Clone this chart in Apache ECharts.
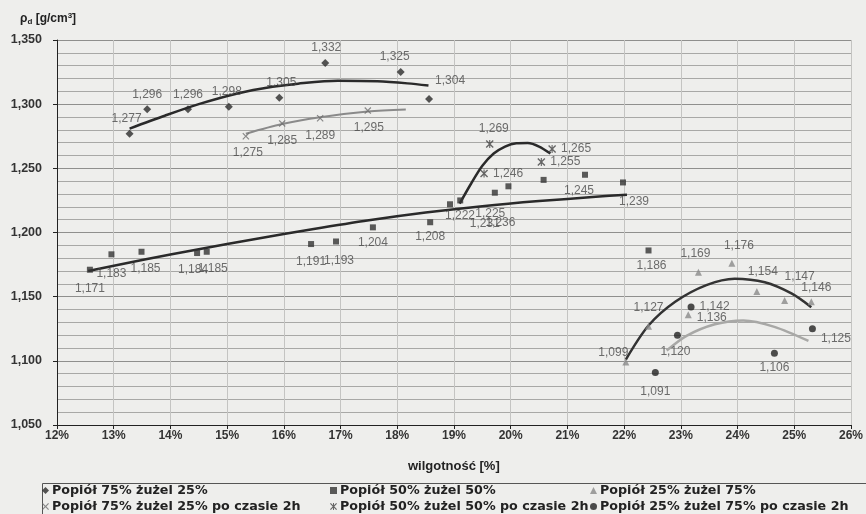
<!DOCTYPE html>
<html><head><meta charset="utf-8">
<script src="https://cdn.jsdelivr.net/npm/echarts@6/dist/echarts.min.js"></script>
<style>html,body{margin:0;padding:0;background:#eeeeec}#chart{width:866px;height:514px}</style>
</head><body><div id="chart"></div>
<script>
// Dry density ρd [g/cm³] against moisture content [%] for ash/slag mixtures

// Popiół 75% żużel 25%
const ash75_x = [13.28, 13.59, 14.31, 15.03, 15.92, 16.73, 18.06, 18.56];
const ash75_y = [1.277, 1.296, 1.296, 1.298, 1.305, 1.332, 1.325, 1.304];
// Popiół 50% żużel 50%
const ash50_x = [12.58, 12.96, 13.49, 14.47, 14.64, 16.48, 16.92, 17.57, 18.58, 18.93, 19.11, 19.72, 19.96, 20.58, 21.31, 21.98, 22.43];
const ash50_y = [1.171, 1.183, 1.185, 1.184, 1.185, 1.191, 1.193, 1.204, 1.208, 1.222, 1.225, 1.231, 1.236, 1.241, 1.245, 1.239, 1.186];
// Popiół 25% żużel 75%
const ash25_x = [22.03, 22.43, 23.13, 23.31, 23.90, 24.34, 24.83, 25.30];
const ash25_y = [1.099, 1.127, 1.136, 1.169, 1.176, 1.154, 1.147, 1.146];
// Popiół 75% żużel 25% po czasie 2h
const ash75h_x = [15.33, 15.97, 16.64, 17.48];
const ash75h_y = [1.275, 1.285, 1.289, 1.295];
// Popiół 50% żużel 50% po czasie 2h
const ash50h_x = [19.53, 19.63, 20.54, 20.73];
const ash50h_y = [1.246, 1.269, 1.255, 1.265];
// Popiół 25% żużel 75% po czasie 2h
const ash25h_x = [22.55, 22.94, 23.18, 24.65, 25.32];
const ash25h_y = [1.091, 1.120, 1.142, 1.106, 1.125];

// Trend curves as drawn on the chart
const tr75_x = [13.28, 13.9, 14.5, 15.2, 15.8, 16.25, 16.95, 17.65, 18.18, 18.55];
const tr75_y = [1.281, 1.291, 1.300, 1.3085, 1.3135, 1.316, 1.3182, 1.3178, 1.3162, 1.3145];
const tr75h_x = [15.33, 15.97, 16.64, 17.48, 18.15];
const tr75h_y = [1.277, 1.2845, 1.2898, 1.2942, 1.2958];
const tr50_x = [12.55, 13.5, 14.5, 15.5, 16.5, 17.5, 18.5, 19.5, 20.5, 21.5, 22.05];
const tr50_y = [1.170, 1.1785, 1.1870, 1.1950, 1.2025, 1.2095, 1.2155, 1.2205, 1.2245, 1.2278, 1.2295];
const tr50h_x = [19.1, 19.3, 19.5, 19.7, 19.9, 20.1, 20.3, 20.5, 20.7];
const tr50h_y = [1.2225, 1.238, 1.252, 1.2615, 1.267, 1.2695, 1.2697, 1.267, 1.2615];
const tr25_x = [22.03, 22.43, 22.9, 23.45, 23.95, 24.48, 24.95, 25.3];
const tr25_y = [1.101, 1.1275, 1.146, 1.159, 1.164, 1.1612, 1.1525, 1.1418];
const tr25h_x = [22.75, 23.1, 23.6, 24.1, 24.65, 25.25];
const tr25h_y = [1.108, 1.1195, 1.1285, 1.1315, 1.1265, 1.1155];

// Axis ticks
const xTicks = {min: 12, max: 26, step: 1};
const yTicks = {min: 1.05, max: 1.35, step: 0.05};

// Value-label placement per point: [position, dx, dy] (null = no label)
const spots75 = [['top',-3,0],['top',0,0],['top',0,0],['top',-2,0],['top',2,0],['top',1,0],['top',-6,0],['top',21,-3]];
const spots50 = [['bottom',0,5],['bottom',0,5],['bottom',4,3],['bottom',-4,3],['bottom',6,3],['bottom',0,4],['bottom',3,5],['bottom',0,1],['bottom',0,0],
  ['bottom',10,-3],['bottom',30,-1],['bottom',-10,17],['bottom',-8,22],null,['bottom',-6,2],['bottom',11,5],['bottom',3,1]];
const spots25 = [['left',11,-9],['top',0,-4],['right',0,3],['top',-3,-4],['top',7,-3],['top',6,-5],['top',15,-9],['top',5,0]];
const spots75h = [['bottom',2,2],['bottom',0,3],['bottom',0,3],['bottom',1,3]];
const spots50h = [['right',0,0],['top',4,0],['right',0,0],['right',0,0]];
const spots25h = [['bottom',0,5],['bottom',-2,2],['right',0,0],['bottom',0,0],['right',0,10]];

const FONT = '"Liberation Sans",Arial,sans-serif';
const WIDE = '"DejaVu Sans",Verdana,sans-serif';
const fmt = v => v.toFixed(3).replace('.', ',');

const XMARK = 'path://M0,1.2L1.2,0L5,3.8L8.8,0L10,1.2L6.2,5L10,8.8L8.8,10L5,6.2L1.2,10L0,8.8L3.8,5Z';
const STAR = 'path://M0,1.2L1.2,0L5,3.8L8.8,0L10,1.2L6.2,5L10,8.8L8.8,10L5,6.2L1.2,10L0,8.8L3.8,5ZM4.3,0L5.7,0L5.7,10L4.3,10Z';

function points(name, xs, ys, spots, symbol, size, color) {
  return {
    name, type: 'scatter', symbol, symbolSize: size, z: 5,
    itemStyle: {color},
    label: {show: true, formatter: p => fmt(p.value[1]), color: '#4a4a4a', fontSize: 12,
            fontFamily: FONT, distance: 5},
    data: xs.map((x, i) => {
      const s = spots[i];
      return s ? {value: [x, ys[i]], label: {position: s[0], offset: [s[1], s[2]]}}
               : {value: [x, ys[i]], label: {show: false}};
    })
  };
}
function trend(xs, ys, color, width) {
  return {
    type: 'line', smooth: 0.3, showSymbol: false, silent: true, z: 3,
    lineStyle: {color, width}, data: xs.map((x, i) => [x, ys[i]])
  };
}

const names = ['Popiół 75% żużel 25%', 'Popiół 50% żużel 50%', 'Popiół 25% żużel 75%',
  'Popiół 75% żużel 25% po czasie 2h', 'Popiół 50% żużel 50% po czasie 2h', 'Popiół 25% żużel 75% po czasie 2h'];
const icons = ['diamond', 'rect', 'triangle', XMARK, STAR, 'circle'];
const legendSpots = [[42, 484], [330, 484], [590, 484], [42, 500], [330, 500], [590, 500]];

const chart = echarts.init(document.getElementById('chart'));
chart.setOption({
  backgroundColor: '#eeeeec',
  animation: false,
  grid: {left: 57, right: 9, top: 40, bottom: 89},
  xAxis: {
    type: 'value', min: xTicks.min, max: xTicks.max, interval: xTicks.step,
    axisLine: {lineStyle: {color: '#222', width: 1}},
    axisTick: {show: true, length: 4, lineStyle: {color: '#222'}},
    axisLabel: {formatter: v => v + '%', color: '#333', fontSize: 12, fontWeight: 'bold', fontFamily: FONT, margin: 5},
    splitLine: {show: true, lineStyle: {color: '#c4c4c2', width: 1}}
  },
  yAxis: {
    type: 'value', min: yTicks.min, max: yTicks.max, interval: yTicks.step,
    axisLine: {show: true, lineStyle: {color: '#222', width: 1}},
    axisTick: {show: true, length: 4, lineStyle: {color: '#222'}},
    axisLabel: {formatter: v => fmt(v), color: '#333', fontSize: 12.5, fontWeight: 'bold', fontFamily: FONT, margin: 15},
    splitLine: {show: true, lineStyle: {color: '#8f8f8d', width: 1}},
    minorTick: {show: false, splitNumber: 5},
    minorSplitLine: {show: true, lineStyle: {color: '#a8a8a6', width: 1}}
  },
  legend: names.map((n, i) => ({
    data: [{name: n, icon: icons[i]}], left: legendSpots[i][0], top: legendSpots[i][1],
    itemWidth: 7, itemHeight: 7, itemGap: 4, padding: 0,
    textStyle: {color: '#222', fontSize: 12.7, fontWeight: 'bold', fontFamily: WIDE, padding: [0, 0, 0, -2]}
  })),
  graphic: [
    {type: 'rect', left: 40, top: 481, shape: {width: 840, height: 40},
     style: {fill: 'none', stroke: '#555', lineWidth: 1}, silent: true},
    {type: 'text', left: 20, top: 12,
     style: {text: '{a|ρ}{s|d}{a| [g/cm}{p|3}{a|]}',
             rich: {a: {fontSize: 12, fontWeight: 'bold', fontFamily: FONT, fill: '#222'},
                    s: {fontSize: 8, fontWeight: 'bold', fontFamily: FONT, fill: '#222', padding: [6, 0, 0, 0]},
                    p: {fontSize: 8, fontWeight: 'bold', fontFamily: FONT, fill: '#222', padding: [0, 0, 6, 0]}}}},
    {type: 'text', left: 408, top: 460,
     style: {text: 'wilgotność [%]', fontSize: 13, fontWeight: 'bold', fontFamily: FONT, fill: '#222'}}
  ],
  series: [
    points(names[0], ash75_x, ash75_y, spots75, 'diamond', 8, '#2b2b2b'),
    points(names[1], ash50_x, ash50_y, spots50, 'rect', 6, '#333333'),
    points(names[2], ash25_x, ash25_y, spots25, 'triangle', 7, '#8a8a8a'),
    points(names[3], ash75h_x, ash75h_y, spots75h, XMARK, 7, '#6e6e6e'),
    points(names[4], ash50h_x, ash50h_y, spots50h, STAR, 8, '#444444'),
    points(names[5], ash25h_x, ash25h_y, spots25h, 'circle', 7, '#222222'),
    trend(tr75_x, tr75_y, '#2a2a2a', 2.5),
    trend(tr50_x, tr50_y, '#2a2a2a', 2.5),
    trend(tr25_x, tr25_y, '#333333', 2.5),
    trend(tr75h_x, tr75h_y, '#8a8a8a', 2),
    trend(tr50h_x, tr50h_y, '#2a2a2a', 2.5),
    trend(tr25h_x, tr25h_y, '#a8a8a6', 2.5)
  ]
});
</script></body></html>
